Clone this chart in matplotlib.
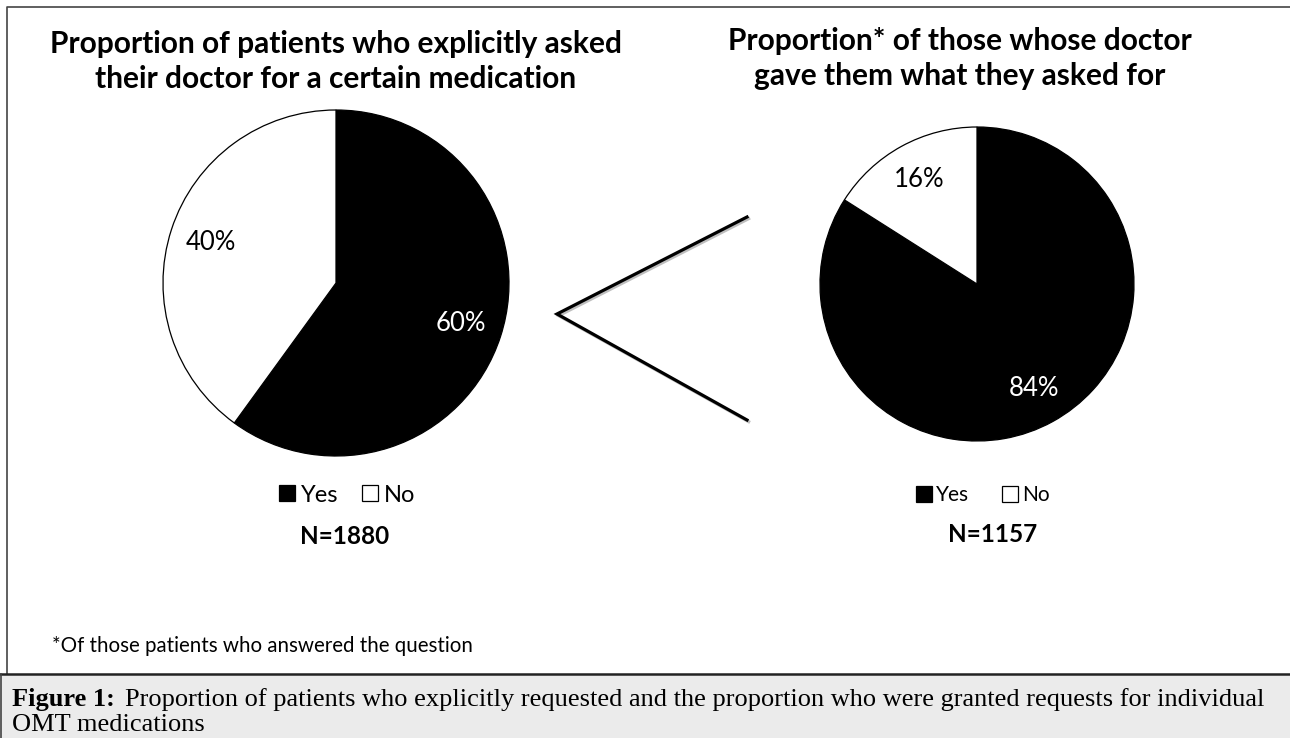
import matplotlib
matplotlib.use("Agg")
import matplotlib.pyplot as plt
import matplotlib.patheffects as pe

# data
labels = ["Yes", "No"]
asked = [60, 40]          # % who explicitly asked
granted = [84, 16]        # % whose doctor gave them what they asked for
n_asked = 1880
n_granted = 1157

title_left = ["Proportion of patients who explicitly asked",
              "their doctor for a certain medication"]
title_right = ["Proportion* of those whose doctor",
               "gave them what they asked for"]
footnote = "*Of those patients who answered the question"
caption_bold = "Figure 1:"
caption_rest = ("Proportion of patients who explicitly requested and the proportion "
                "who were granted requests for individual")
caption_line2 = "OMT medications"

W, H = 1290, 738
SANS = "Lato"
SERIF = "Liberation Serif"


def py(y):
    # pixel row (from top) -> data y
    return H - y


fig = plt.figure(figsize=(W / 100, H / 100), dpi=100)
ax = fig.add_axes([0, 0, 1, 1])


def draw_pie(vals, center, radius, fs):
    wedges, _, pct = ax.pie(vals, colors=["black", "white"], startangle=90,
                            counterclock=False, center=center, radius=radius,
                            autopct=lambda p: f"{p:.0f}%", pctdistance=0.76,
                            frame=True,
                            wedgeprops=dict(edgecolor="black", linewidth=0.9),
                            textprops=dict(family=SANS, fontsize=fs))
    pct[0].set_color("white")
    pct[1].set_color("black")
    return wedges


w1 = draw_pie(asked, (336, py(283)), 173, 18.5)
w2 = draw_pie(granted, (977, py(284)), 157, 18.5)

# titles
for i, t in enumerate(title_left):
    ax.text(336, py(53 + 35 * i), t, ha="center", va="baseline",
            family=SANS, fontweight="bold", fontsize=21.5)
for i, t in enumerate(title_right):
    ax.text(960, py(50 + 35 * i), t, ha="center", va="baseline",
            family=SANS, fontweight="bold", fontsize=21.5)

# legends
leg1 = ax.legend(w1, labels, loc="center", bbox_to_anchor=(347, py(495)),
                 bbox_transform=ax.transData, ncol=2, frameon=False,
                 prop=dict(family=SANS, size=17), handlelength=0.68,
                 handleheight=0.68, handletextpad=0.25, columnspacing=1.0,
                 borderpad=0, borderaxespad=0)
ax.add_artist(leg1)
leg2 = ax.legend(w2, labels, loc="center", bbox_to_anchor=(983, py(495)),
                 bbox_transform=ax.transData, ncol=2, frameon=False,
                 prop=dict(family=SANS, size=15), handlelength=0.77,
                 handleheight=0.77, handletextpad=0.2, columnspacing=1.6,
                 borderpad=0, borderaxespad=0)

ax.text(345, py(536), f"N={n_asked}", ha="center", va="center",
        family=SANS, fontweight="bold", fontsize=17.5)
ax.text(993, py(535), f"N={n_granted}", ha="center", va="center",
        family=SANS, fontweight="bold", fontsize=17.5)

# the "<" connector
ax.plot([747, 557, 747], [py(217), py(314), py(420)], color="black", lw=2.3,
        solid_joinstyle="miter",
        path_effects=[pe.SimpleLineShadow(offset=(1.2, -1.2), alpha=0.25),
                      pe.Normal()])

ax.text(52, py(646), footnote, ha="left", va="center", family=SANS,
        fontsize=14.8)

# chart frame
ax.plot([7, 7, W], [py(674), py(7), py(7)], color="#444444", lw=1.2)

# caption band
ax.fill_between([0, W], py(738), py(674), color="#ebebeb", zorder=0)
ax.plot([0, W], [py(674), py(674)], color="#222222", lw=1.8)
ax.plot([0.8, 0.8], [py(674), py(738)], color="#444444", lw=1.2)
t1 = ax.text(12, py(706), caption_bold, ha="left", va="baseline",
             family=SERIF, fontweight="bold", fontsize=19)
fig.canvas.draw()
bb = t1.get_window_extent()
x_end = ax.transData.inverted().transform((bb.x1, bb.y0))[0]
ax.text(x_end, py(706), caption_rest, ha="left", va="baseline",
        family=SERIF, fontsize=19)
ax.text(12, py(731), caption_line2, ha="left", va="baseline",
        family=SERIF, fontsize=19)

ax.set_xlim(0, W)
ax.set_ylim(0, H)
ax.set_aspect("equal")
ax.axis("off")

fig.savefig("out.png", dpi=100)
